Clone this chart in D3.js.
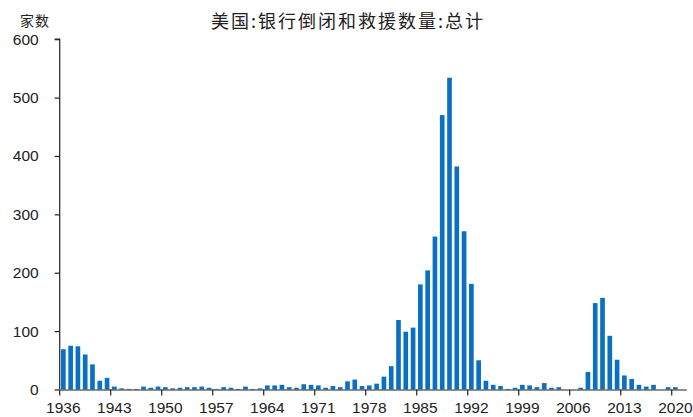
<!DOCTYPE html>
<html>
<head>
<meta charset="utf-8">
<script src="https://cdn.jsdelivr.net/npm/d3@7"></script>
<style>
  html, body { margin: 0; padding: 0; background: #fff; }
  svg { display: block; }
</style>
</head>
<body>
<svg id="chart" width="693" height="417"></svg>
<script>
const title = "美国:银行倒闭和救援数量:总计";
const unitLabel = "家数";
const years = d3.range(1936, 2022);
const counts = [
  69, 75, 74, 60, 43, 15, 20, 5, 2, 1,      // 1936-1945
  1, 5, 3, 5, 4, 2, 3, 4, 4, 5,             // 1946-1955
  3, 1, 4, 3, 1, 5, 1, 2, 7, 7,             // 1956-1965
  8, 4, 3, 9, 8, 7, 3, 6, 4, 14,            // 1966-1975
  17, 6, 7, 10, 22, 40, 119, 99, 106, 180,  // 1976-1985
  204, 262, 470, 534, 382, 271, 181, 50, 15, 8, // 1986-1995
  6, 1, 3, 8, 7, 4, 11, 3, 4, 0,            // 1996-2005
  0, 3, 30, 148, 157, 92, 51, 24, 18, 8,    // 2006-2015
  5, 8, 0, 4, 4, 0                          // 2016-2021
];
const yTicks = [0, 100, 200, 300, 400, 500, 600];
const xLabelYears = [1936, 1943, 1950, 1957, 1964, 1971, 1978, 1985, 1992, 1999, 2006, 2013, 2020];

const svg = d3.select("#chart");
const mLeft = 59.7, mRight = 686.3, mTop = 39.2, mBottom = 389.5;

const x = d3.scaleBand().domain(years).range([mLeft, mRight]).paddingInner(0.36).paddingOuter(0.18);
const xb = d3.scaleBand().domain(years).range([mLeft, mRight]); // for boundaries
const y = d3.scaleLinear().domain([0, 600]).range([mBottom, mTop]);

const axisColor = "#222";
const font = "'Liberation Sans', Arial, sans-serif";

// bars
svg.append("g").selectAll("rect").data(years).join("rect")
  .attr("x", d => x(d))
  .attr("width", x.bandwidth())
  .attr("y", (d, i) => y(counts[i]))
  .attr("height", (d, i) => mBottom - y(counts[i]))
  .attr("fill", "#0a70c2");

// y axis
const yAxis = d3.axisLeft(y).tickValues(yTicks).tickSize(5).tickPadding(16);
const gy = svg.append("g").attr("transform", `translate(${mLeft},0)`).call(yAxis);
gy.select(".domain").attr("stroke", axisColor).attr("stroke-width", 1.2).attr("d", `M-5,${mTop}H0V${mBottom}`);
gy.selectAll(".tick line").attr("stroke", axisColor).attr("stroke-width", 1.2);
gy.selectAll(".tick text").attr("font-family", font).attr("font-size", 15.5).attr("fill", "#222");

// x axis
const xAxis = d3.axisBottom(xb).tickValues(xLabelYears).tickSize(6).tickPadding(6).tickSizeOuter(0);
const gx = svg.append("g").attr("transform", `translate(0,${mBottom})`).call(xAxis);
gx.select(".domain").attr("stroke", axisColor).attr("stroke-width", 1.2);
gx.selectAll(".tick line").attr("stroke", axisColor).attr("stroke-width", 1.2)
  .attr("transform", `translate(${-xb.bandwidth()/2},0)`);
gx.selectAll(".tick text").attr("font-family", font).attr("font-size", 15.5).attr("fill", "#222");

// title
svg.append("text").attr("x", 348).attr("y", 28).attr("text-anchor", "middle")
  .attr("font-family", "'Noto Sans CJK SC', sans-serif").attr("font-size", 18)
  .attr("letter-spacing", 2).attr("fill", "#222")
  .text(title);
svg.append("text").attr("x", 35).attr("y", 26).attr("text-anchor", "middle")
  .attr("font-family", "'Noto Sans CJK SC', sans-serif").attr("font-size", 14)
  .attr("letter-spacing", 1).attr("fill", "#222")
  .text(unitLabel);
</script>
</body>
</html>
